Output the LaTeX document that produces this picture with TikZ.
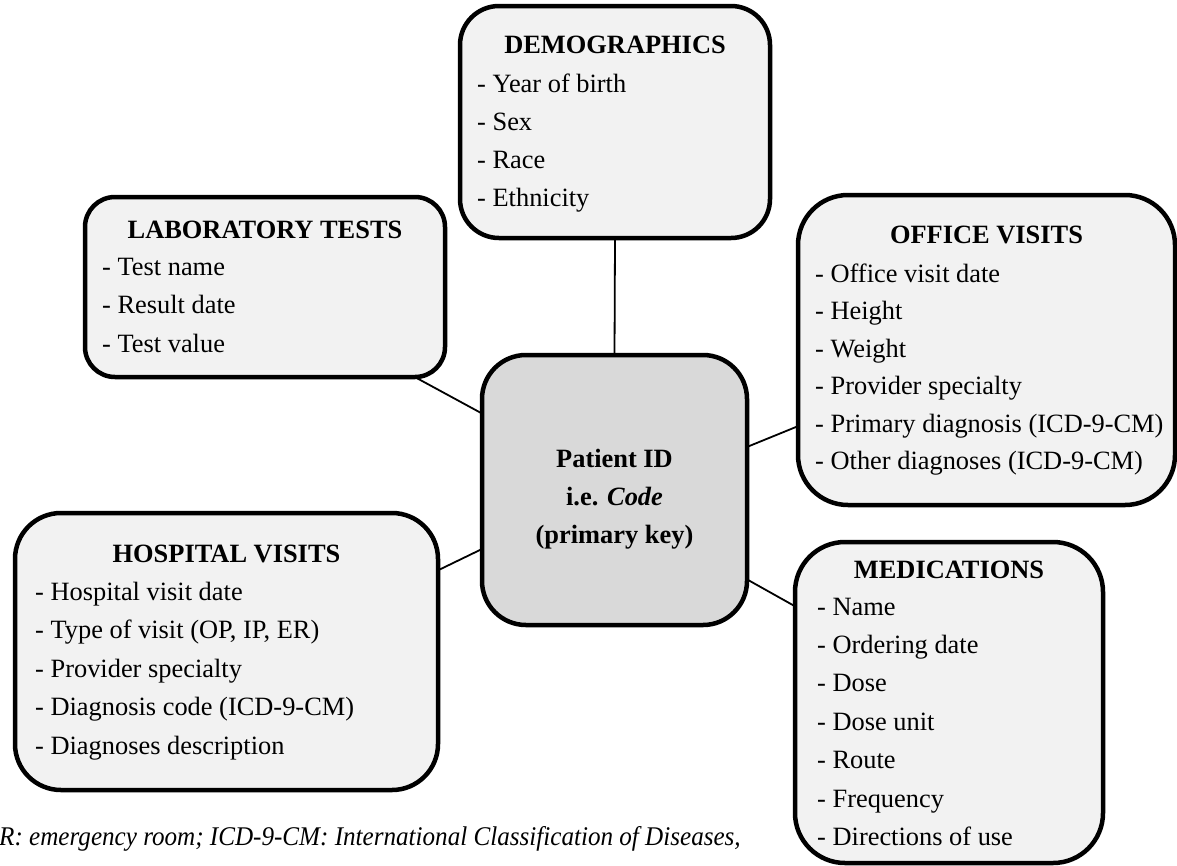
\documentclass[tikz,border=0pt]{standalone}
\usepackage{fontspec}
\setmainfont{Liberation Serif}
\definecolor{boxgray}{HTML}{F2F2F2}
\definecolor{hubgray}{HTML}{D9D9D9}
\begin{document}
\begin{tikzpicture}[x=1pt,y=-1pt,
  box/.style={draw=black, line width=4.5pt, fill=boxgray, inner sep=0pt, outer sep=0pt},
  hubbox/.style={box, fill=hubgray},
  head/.style={anchor=base, font=\fontsize{26.4}{30}\selectfont\bfseries, inner sep=0pt},
  item/.style={anchor=base west, font=\fontsize{26.4}{30}\selectfont, inner sep=0pt},
  link/.style={line width=1.8pt}]
\useasboundingbox (0,0) rectangle (1177,865);

% boxes
\node[hubbox, rounded corners=44pt, minimum width=265pt, minimum height=270pt] (hub) at (614.5,490) {};
\node[box, rounded corners=39pt, minimum width=310pt, minimum height=232pt] (demo) at (615,122) {};
\node[box, rounded corners=30pt, minimum width=360pt, minimum height=180pt] (lab) at (265,287) {};
\node[box, rounded corners=50pt, minimum width=377pt, minimum height=310pt] (office) at (986.5,350) {};
\node[box, rounded corners=46pt, minimum width=423pt, minimum height=277pt] (hosp) at (226.5,651.5) {};
\node[box, rounded corners=50pt, minimum width=308pt, minimum height=321pt] (meds) at (949,702.5) {};

% connectors
\draw[link] (demo.south) -- (hub.north);
\draw[link] (lab.-31) -- (hub.150.8);
\draw[link] (office.202.2) -- (hub.18.6);
\draw[link] (meds.148.2) -- (hub.-34);
\draw[link] (hosp.21.8) -- (hub.204.4);

% hub text
\node[head] (pid1) at (614.5,467) {Patient ID};
\node[head] (pid2) at (614.5,505) {i.e. \textit{Code}};
\node[head] (pid3) at (614.5,543) {(primary key)};

% demographics
\node[head] (demo-h) at (615,53) {DEMOGRAPHICS};
\foreach \t [count=\i] in {- Year of birth, - Sex, - Race, - Ethnicity}
  \node[item] (demo-\i) at (477,{92+38.3*(\i-1)}) {\t};

% laboratory tests
\node[head] (lab-h) at (265,238) {LABORATORY TESTS};
\foreach \t [count=\i] in {- Test name, - Result date, - Test value}
  \node[item] (lab-\i) at (102,{275+38.5*(\i-1)}) {\t};

% office visits
\node[head] (office-h) at (986.5,243) {OFFICE VISITS};
\foreach \t [count=\i] in {- Office visit date, - Height, - Weight, - Provider specialty,
  - Primary diagnosis (ICD-9-CM), - Other diagnoses (ICD-9-CM)}
  \node[item] (office-\i) at (815,{282+37.5*(\i-1)}) {\t};

% hospital visits
\node[head] (hosp-h) at (226.5,562) {HOSPITAL VISITS};
\foreach \t [count=\i] in {- Hospital visit date, {- Type of visit (OP, IP, ER)}, - Provider specialty,
  - Diagnosis code (ICD-9-CM), - Diagnoses description}
  \node[item] (hosp-\i) at (35,{600+38.5*(\i-1)}) {\t};

% medications
\node[head] (meds-h) at (949,578) {MEDICATIONS};
\foreach \t [count=\i] in {- Name, - Ordering date, - Dose, - Dose unit, - Route, - Frequency, - Directions of use}
  \node[item] (meds-\i) at (817,{615+38.4*(\i-1)}) {\t};

% footnote
\node[anchor=base west, inner sep=0pt, font=\fontsize{27}{30}\selectfont\itshape] (note) at (-1,845)
  {\scalebox{0.93}[1]{R: emergency room; ICD-9-CM: International Classification of Diseases,}};
\end{tikzpicture}
\end{document}
